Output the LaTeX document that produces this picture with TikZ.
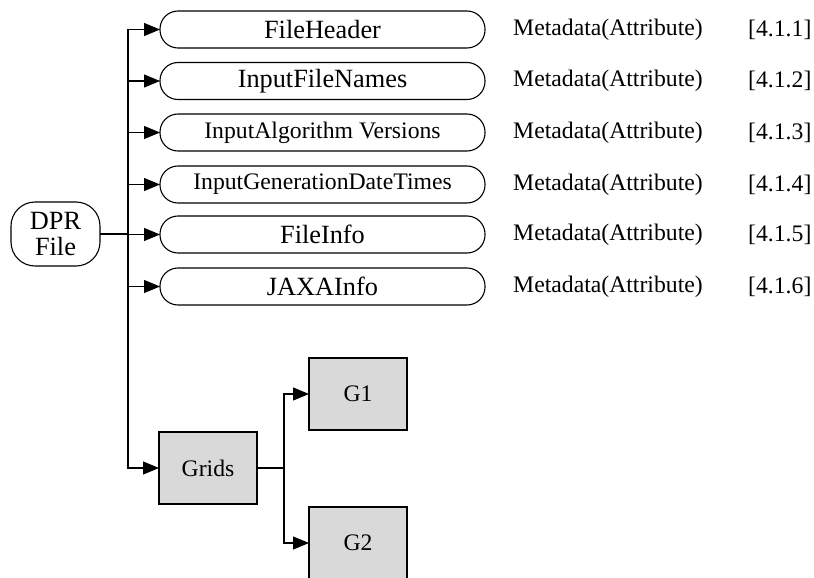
\documentclass[tikz,border=0pt]{standalone}
\usepackage{fontspec}
\setmainfont{Liberation Serif}
\usetikzlibrary{arrows.meta,shapes.misc}
\newcommand\bigtxt{\fontsize{26.3}{30}\selectfont}
\newcommand\midtxt{\fontsize{23.7}{28}\selectfont}
\definecolor{boxgray}{HTML}{D9D9D9}
\tikzset{
  pill/.style={draw, line width=1.1pt, rounded corners=18pt, minimum width=325pt, minimum height=37pt, inner sep=0pt, outer sep=0pt},
  gbox/.style={draw, line width=1.1pt, fill=boxgray, minimum width=98pt, minimum height=72pt, inner sep=0pt, outer sep=0pt, font=\midtxt},
  conn/.style={line width=1.1pt},
  arr/.style={conn, -{Triangle[length=16pt,width=13pt]}},
  meta/.style={anchor=west, inner sep=0pt, font=\midtxt},
}
\begin{document}
\begin{tikzpicture}[x=1pt,y=-1pt]
\useasboundingbox (0,0) rectangle (814,578);
\clip (0,0) rectangle (814,578);
\node[draw, line width=1.1pt, rounded corners=24pt, minimum width=89pt, minimum height=64pt, inner sep=0pt, outer sep=0pt, align=center, font=\bigtxt] (dpr) at (55.5,234) {DPR\\[-4pt]File};

\node[pill, font=\bigtxt] (b1) at (322.5,29.5) {FileHeader};
\node[pill, font=\bigtxt] (b2) at (322.5,81) {InputFileNames};
\node[pill, font=\midtxt] (b3) at (322.5,132.5) {InputAlgorithm Versions};
\node[pill, font=\midtxt] (b4) at (322.5,184.5) {InputGenerationDateTimes};
\node[pill, font=\bigtxt] (b5) at (322.5,234.5) {FileInfo};
\node[pill, font=\bigtxt] (b6) at (322.5,286.5) {JAXAInfo};

\foreach \i/\y/\n in {1/29.5/1,2/81/2,3/132.5/3,4/184.5/4,5/234.5/5,6/286.5/6}{
  \node[meta] (m\i) at (513,\y) {Metadata(Attribute)};
  \node[meta] (r\i) at (748,\y) {[4.1.\n]};
}

\node[gbox] (grids) at (208,468) {Grids};
\node[gbox] (g1) at (358,394) {G1};
\node[gbox] (g2) at (358,543) {G2};

\coordinate (j) at (128,234);
\coordinate (k) at (284,468);
\draw[conn] (dpr.east) -- (j);
\foreach \b in {b1,b2,b3,b4,b5,b6,grids}{
  \draw[arr] (j) |- (\b.west);
}
\draw[conn] (grids.east) -- (k);
\draw[arr] (k) |- (g1.west);
\draw[arr] (k) |- (g2.west);
\end{tikzpicture}
\end{document}
